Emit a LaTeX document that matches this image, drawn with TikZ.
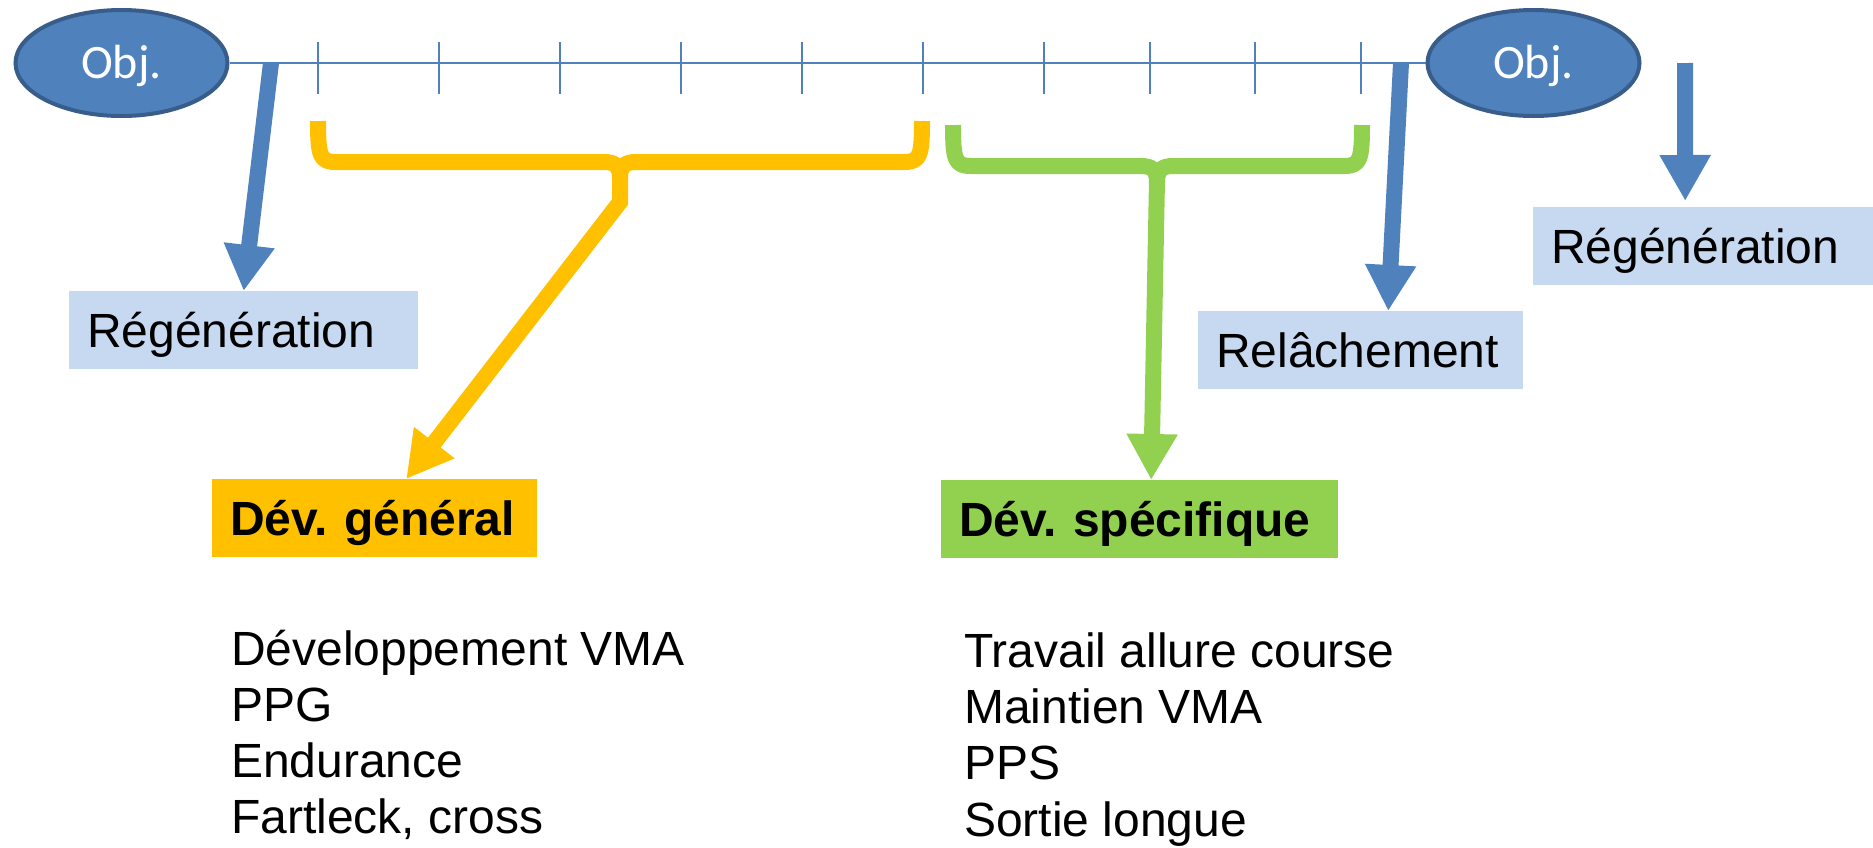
\documentclass[tikz,border=0pt]{standalone}
\usepackage{fontspec}
\setmainfont{Liberation Sans}
\newfontfamily\objfont{Carlito}
\usetikzlibrary{shapes.geometric,arrows.meta}
\frenchspacing

\definecolor{objblue}{HTML}{4F81BD}
\definecolor{objedge}{HTML}{385D8A}
\definecolor{softblue}{HTML}{C6D9F1}
\definecolor{gold}{HTML}{FFC000}
\definecolor{leaf}{HTML}{92D050}

\tikzset{
  obj/.style={ellipse, draw=objedge, line width=4pt, fill=objblue, text=white,
    minimum width=212pt, minimum height=106pt, inner sep=0pt,
    font=\objfont\fontsize{48}{48}\selectfont, text height=31pt, text depth=0pt},
  lbl/.style={anchor=north west, align=left, inner xsep=18pt, inner ysep=0pt,
    minimum height=78pt, text height=34pt, text depth=0pt,
    font=\fontsize{48}{56}\selectfont},
  soft/.style={lbl, fill=softblue},
  item/.style={anchor=base west, inner sep=0pt, font=\fontsize{48}{56}\selectfont},
  tline/.style={draw=objblue, line width=2pt},
  tick/.style={draw=objblue, line width=1.5pt},
  barrow/.style={draw=objblue, line width=16pt, -{Triangle[width=48pt,length=46pt]}},
  brace/.style={line width=16pt, line join=round},
  yarrow/.style={draw=gold, line width=16pt, -{Triangle[width=48pt,length=46pt]}},
  garrow/.style={draw=leaf, line width=16pt, -{Triangle[width=48pt,length=46pt]}}
}

\begin{document}
\begin{tikzpicture}[x=1pt,y=-1pt]
  \useasboundingbox (0,0) rectangle (1873,847);

  % the two objectives and the season between them
  \node[obj] (obj1) at (121.5,63) {Obj.};
  \node[obj] (obj2) at (1533.5,63) {Obj.};
  \draw[tline] (obj1.east) -- (obj2.west);
  \foreach \x in {318,439,560,681,802,923,1044,1150,1255,1361}
    \draw[tick] (\x,42) -- (\x,94);

  % phases
  \node[soft, text width=313pt] (reg1) at (69,291) {Régénération};
  \node[soft, text width=304pt] (reg2) at (1533,207) {Régénération};
  \node[soft, text width=289pt] (rel) at (1198,311) {Relâchement};
  \node[lbl, fill=gold, text width=289pt] (gen) at (212,479) {\bfseries Dév. général};
  \node[lbl, fill=leaf, text width=361pt] (spec) at (941,480) {\bfseries Dév. spécifique};

  % contents of each block
  \foreach \txt [count=\i] in {Développement VMA, PPG, Endurance, {Fartleck, cross}}
    \node[item] (g\i) at (231,{609.5+56*\i}) {\txt};
  \foreach \txt [count=\i] in {Travail allure course, Maintien VMA, PPS, Sortie longue}
    \node[item] (s\i) at (964,{611+56.3*\i}) {\txt};

  % blue arrows off the timeline
  \coordinate (a1) at (271,63);
  \coordinate (a2) at (1401,63);
  \coordinate (a3) at (1685,63);
  \draw[barrow] (a1) -- (reg1.north);
  \draw[barrow] (a2) -- ([xshift=27.5pt]rel.north);
  \draw[barrow] (a3) -- ([xshift=-18pt,yshift=6pt]reg2.north);

  % braces over the two blocks of weeks
  \draw[brace, draw=gold] (318,121) .. controls (318,156) and (320,162) .. (336,162)
    -- (604,162) .. controls (615,162) and (620,166) .. (620,178)
    .. controls (620,166) and (625,162) .. (636,162)
    -- (904,162) .. controls (920,162) and (922,156) .. (922,121);
  \draw[brace, draw=leaf] (953,125) .. controls (953,160) and (955,166) .. (971,166)
    -- (1141,166) .. controls (1152,166) and (1157,170) .. (1157,182)
    .. controls (1157,170) and (1162,166) .. (1173,166)
    -- (1344,166) .. controls (1360,166) and (1362,160) .. (1362,125);
  \coordinate (ymid) at (620,176);
  \coordinate (gmid) at (1157,180);
  \draw[yarrow] (ymid) -- ++(0,26) -- ([xshift=31.5pt]gen.north);
  \draw[garrow] (gmid) -- ([xshift=11.5pt]spec.north);
\end{tikzpicture}
\end{document}
